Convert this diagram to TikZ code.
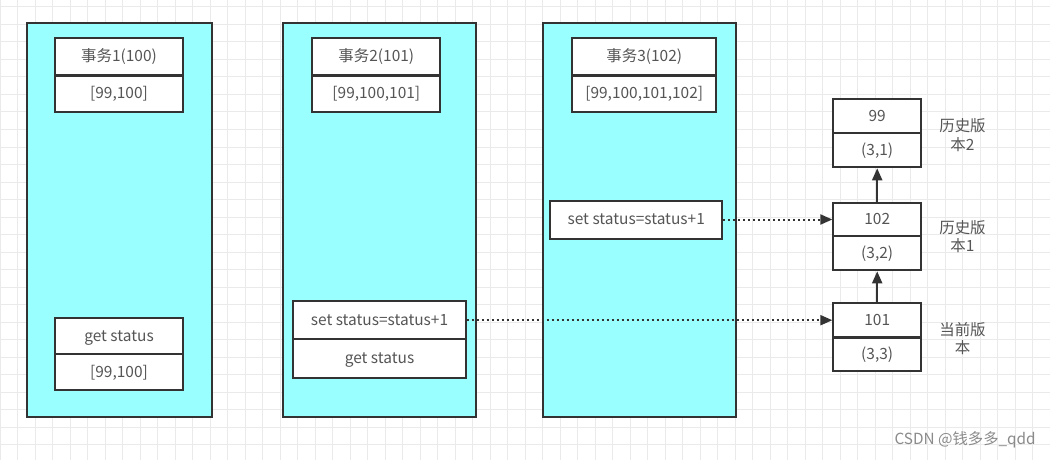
\documentclass[tikz,border=0pt]{standalone}
\usepackage{fontspec}
\setmainfont{Noto Sans CJK SC}
\usetikzlibrary{arrows.meta}
\definecolor{cyanfill}{HTML}{99FFFF}
\definecolor{edgec}{HTML}{333333}
\definecolor{txt}{HTML}{555555}
\definecolor{gridc}{HTML}{EAEAEA}
\definecolor{wm}{HTML}{8A8A8A}
\begin{document}
\begin{tikzpicture}[x=0.75pt,y=-0.75pt,
  sz/.style 2 args={minimum width=#1*0.75pt,minimum height=#2*0.75pt},
  bigbox/.style={draw=edgec,fill=cyanfill,line width=1.5pt,inner sep=0pt,rectangle},
  cell/.style={draw=edgec,fill=white,line width=1.5pt,inner sep=0pt,rectangle,text=txt,
    font=\fontsize{11.6}{13}\selectfont,text height=8.5pt,text depth=1pt},
  lbl/.style={text=txt,align=center,font=\fontsize{11.6}{14}\selectfont},
  arr/.style={draw=edgec,line width=1.5pt,-{Triangle[length=9pt,width=7.5pt]}},
  dotarr/.style={draw=edgec,line width=1.5pt,dash pattern=on 1.5pt off 2.25pt,-{Triangle[length=9pt,width=7.5pt]}}
]
\fill[white] (0,0) rectangle (1050,460);
\useasboundingbox (0,0) rectangle (1050,460);
% grid
\foreach \i in {0,...,60} \draw[gridc,line width=0.75pt] (\i*17.5,0) -- (\i*17.5,460);
\foreach \j in {0,...,26} \draw[gridc,line width=0.75pt] (0,7+\j*17.5) -- (1050,7+\j*17.5);

% big boxes
\node[bigbox,sz={185.5}{394}] (B1) at (119.25,220.3) {};
\node[bigbox,sz={192.7}{394}] (B2) at (379.7,220.3) {};
\node[bigbox,sz={192.7}{394}] (B3) at (639.7,220.3) {};

% transaction 1
\node[cell,sz={128}{37}] (t1) at (119,57) {事务1(100)};
\node[cell,sz={128}{36}] (r1) at (119,93.7) {[99,100]};
\node[cell,sz={128}{36}] (g1) at (119,336.3) {get status};
\node[cell,sz={128}{35.7}] (rg1) at (119,372.2) {[99,100]};

% transaction 2
\node[cell,sz={128}{37}] (t2) at (376.3,57) {事务2(101)};
\node[cell,sz={128}{36}] (r2) at (376.3,93.7) {[99,100,101]};
\node[cell,sz={172.4}{37.7}] (s2) at (379.5,320.2) {set status=status+1};
\node[cell,sz={172.4}{38.6}] (g2) at (379.5,358.3) {get status};

% transaction 3
\node[cell,sz={143.7}{37}] (t3) at (644.2,57) {事务3(102)};
\node[cell,sz={143.7}{36}] (r3) at (644.2,93.7) {[99,100,101,102]};
\node[cell,sz={172.3}{38}] (s3) at (636.2,219.5) {set status=status+1};

% version chain
\node[cell,sz={87.7}{34.3}] (v99) at (877.2,116.2) {99};
\node[cell,sz={87.7}{34}] (v99b) at (877.2,150.3) {(3,1)};
\node[cell,sz={87.7}{34}] (v102) at (877.2,219.5) {102};
\node[cell,sz={87.7}{34.3}] (v102b) at (877.2,253.2) {(3,2)};
\node[cell,sz={87.7}{34.4}] (v101) at (877.2,320.2) {101};
\node[cell,sz={87.7}{33.3}] (v101b) at (877.2,354.3) {(3,3)};

% labels
\node[lbl] (l2) at (962.5,135) {历史版\\本2};
\node[lbl] (l1) at (962.5,236.5) {历史版\\本1};
\node[lbl] (l0) at (962.5,338.5) {当前版\\本};

% arrows
\draw[arr] (v102.north) -- (v99b.south);
\draw[arr] (v101.north) -- (v102b.south);
\draw[dotarr] (s3.east) -- (v102.west);
\draw[dotarr] (s2.east) -- (v101.west);

% watermark
\node[text=wm,anchor=east,inner sep=0pt,font=\fontsize{11.5}{13}\selectfont] (wmk) at (1036,440) {CSDN @钱多多\_qdd};
\end{tikzpicture}
\end{document}
